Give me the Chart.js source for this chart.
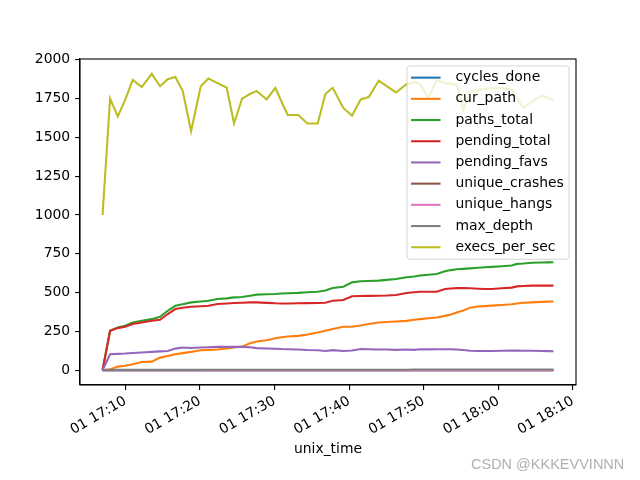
<!DOCTYPE html>
<html>
<head>
<meta charset="utf-8">
<script src="https://cdn.jsdelivr.net/npm/chart.js@4.4.1/dist/chart.umd.min.js"></script>
<style>
  body { margin: 0; background: #fff; }
  #wrap { position: relative; width: 640px; height: 480px; }
  #mark { position: absolute; left: 471px; top: 456px; font: 14.5px "Liberation Sans", sans-serif; color: #b0b0b0; white-space: nowrap; }
</style>
</head>
<body>
<div id="wrap">
<canvas id="c" width="640" height="480"></canvas>
<div id="mark">CSDN @KKKEVVINNN</div>
</div>
<script>
// minutes after 17:00 on day 01
var times = [
  6.94, 7.95, 8.98, 9.96, 10.99, 12.20, 13.54, 14.65, 15.68, 16.70,
  17.69, 18.81, 20.11, 21.13, 22.36, 23.59, 24.57, 25.64, 26.71, 27.61,
  28.95, 30.11, 30.94, 31.77, 33.19, 34.40, 35.79, 36.81, 37.80, 39.22,
  40.39, 41.55, 42.63, 43.97, 45.04, 46.29, 47.72, 48.70, 49.50, 50.62,
  51.74, 52.86, 53.66, 54.42, 55.31, 56.21, 57.32, 58.22, 59.12, 60.46,
  61.80, 62.51, 63.36, 64.48, 65.82, 66.66, 67.40];

var cyclesDone = [
  0,0,0,0,0,0,0,0,0,0, 0,0,0,0,0,0,0,0,0,0, 0,0,0,0,0,0,0,0,0,0,
  0,0,0,0,0,0,0,0,0,0, 0,0,0,0,0,0,0,0,0,0, 0,0,0,0,0,0,0];
var curPath = [
  0,5,23,29,38,53,55,81,92,103,
  110,118,129,131,133,140,146,152,174,185,
  193,206,212,217,221,230,243,254,265,280,
  280,288,297,307,311,314,318,325,329,335,
  340,350,359,372,385,403,410,413,416,420,
  425,430,435,437,440,442,443];
var pathsTotal = [
  0,254,275,286,307,318,329,344,383,415,
  425,437,443,447,459,463,469,472,480,487,
  489,491,494,496,498,502,506,513,530,538,
  566,573,575,577,582,588,599,604,610,615,
  620,638,645,650,653,656,660,663,666,670,
  675,685,687,692,694,695,696];
var pendingTotal = [
  0,254,271,280,297,307,318,325,362,394,
  402,409,412,415,427,430,433,435,437,437,
  434,431,430,430,431,432,433,435,448,452,
  476,478,479,480,481,485,498,502,506,506,
  506,523,526,529,530,528,525,523,523,528,
  532,540,542,545,545,545,545];
var pendingFavs = [
  0,103,105,107,111,114,118,121,124,139,
  146,143,146,148,150,150,150,150,148,142,
  140,138,136,135,133,130,129,124,129,124,
  127,137,135,133,133,131,133,131,135,134,
  135,135,135,133,130,125,124,124,124,125,
  126,126,125,125,124,123,122];
var uniqueCrashes = [
  0,0,0,0,0,0,0,0,0,0, 0,0,0,0,0,0,0,0,0,0, 0,0,0,0,0,0,0,0,0,0,
  0,0,0,0,0,0,0,0,0,0, 0,0,0,0,0,0,0,0,0,0, 0,0,0,0,0,0,0];
var uniqueHangs = [
  0,0,0,0,0,0,0,0,0,0, 0,0,0,0,0,0,0,0,0,0, 0,0,0,0,0,0,0,0,0,0,
  0,0,0,0,0,0,0,0,0,0, 0,0,0,0,0,0,0,0,0,0, 0,0,0,0,0,0,0];
var maxDepth = [
  1,2,2,2,2,2,2,2,2,2,
  2,2,2,3,3,3,3,3,3,3,
  3,3,3,3,3,3,3,3,3,3,
  3,3,3,3,3,3,3,4,4,4,
  4,4,4,4,4,4,4,4,4,4,
  4,4,4,4,4,4,4];
var execsPerSec = [
  1000,1750,1635,1740,1870,1825,1910,1830,1875,1890,
  1800,1540,1830,1880,1850,1820,1590,1750,1780,1800,
  1745,1820,1730,1645,1645,1590,1590,1780,1820,1690,
  1640,1745,1760,1865,1830,1790,1845,1855,1845,1753,
  1870,1850,1845,1840,1680,1795,1805,1812,1818,1818,
  1807,1750,1690,1730,1770,1755,1740];

var seriesNames = [" cycles_done", " cur_path", " paths_total", " pending_total", " pending_favs",
  " unique_crashes", " unique_hangs", " max_depth", " execs_per_sec"];
var seriesColors = ["#1f77b4", "#ff7f0e", "#2ca02c", "#d62728", "#9467bd",
  "#8c564b", "#e377c2", "#7f7f7f", "#bcbd22"];
var seriesValues = [cyclesDone, curPath, pathsTotal, pendingTotal, pendingFavs,
  uniqueCrashes, uniqueHangs, maxDepth, execsPerSec];

var xTicks = [10, 20, 30, 40, 50, 60, 70];
var xTickLabels = ["01 17:10", "01 17:20", "01 17:30", "01 17:40", "01 17:50", "01 18:00", "01 18:10"];
var yTicks = [0, 250, 500, 750, 1000, 1250, 1500, 1750, 2000];

var FS = 13.9;
var FONT = "'DejaVu Sans', sans-serif";

var datasets = [];
for (var i = 0; i < seriesNames.length; i++) {
  var vals = seriesValues[i];
  datasets.push({
    label: seriesNames[i],
    borderColor: seriesColors[i],
    backgroundColor: seriesColors[i],
    borderWidth: 2.08,
    pointRadius: 0,
    tension: 0,
    order: -i, // later series drawn on top, like matplotlib
    data: times.map(function (t, j) { return {x: t, y: vals[j]}; })
  });
}

// matplotlib-like frame and in-axes legend
var frame = {
  id: 'frame',
  afterDatasetsDraw: function (chart) {
    var ctx = chart.ctx, a = chart.chartArea;
    var w = 162, h = 193.3;
    var x0 = a.right - 6.95 - w, y0 = a.top + 6.95;
    ctx.save();
    ctx.beginPath();
    ctx.roundRect(x0, y0, w, h, 3);
    ctx.fillStyle = 'rgba(255,255,255,0.8)';
    ctx.fill();
    ctx.strokeStyle = 'rgba(204,204,204,0.8)';
    ctx.lineWidth = 1;
    ctx.stroke();
    ctx.font = FS + 'px ' + FONT;
    ctx.textBaseline = 'middle';
    ctx.textAlign = 'left';
    for (var i = 0; i < seriesNames.length; i++) {
      var y = y0 + 11.7 + i * 21.2;
      ctx.beginPath();
      ctx.moveTo(x0 + 4, y);
      ctx.lineTo(x0 + 33.5, y);
      ctx.strokeStyle = seriesColors[i];
      ctx.lineWidth = 2.08;
      ctx.stroke();
      ctx.fillStyle = '#000';
      ctx.fillText(seriesNames[i], x0 + 44, y);
    }
    ctx.restore();
  },
  afterDraw: function (chart) {
    var ctx = chart.ctx, a = chart.chartArea;
    ctx.save();
    ctx.strokeStyle = '#000';
    ctx.lineWidth = 1.1;
    ctx.strokeRect(a.left, a.top, a.right - a.left, a.bottom - a.top);
    ctx.restore();
  }
};

new Chart(document.getElementById('c'), {
  type: 'line',
  data: {datasets: datasets},
  plugins: [frame],
  options: {
    responsive: false,
    animation: false,
    devicePixelRatio: 1,
    layout: {padding: {top: 59, right: 64, left: 0, bottom: 0}},
    plugins: {legend: {display: false}, tooltip: {enabled: false}},
    scales: {
      x: {
        type: 'linear',
        min: 3.917,
        max: 70.42,
        afterBuildTicks: function (s) { s.ticks = xTicks.map(function (v) { return {value: v}; }); },
        afterFit: function (s) { s.height = 95; s.paddingLeft = 0; s.paddingRight = 0; },
        ticks: {
          autoSkip: false,
          maxRotation: 30,
          minRotation: 30,
          padding: 3,
          color: '#000',
          font: {family: FONT, size: FS},
          callback: function (v) { return xTickLabels[xTicks.indexOf(v)]; }
        },
        grid: {drawOnChartArea: false, tickLength: 4.9, color: '#000', lineWidth: 1.1},
        border: {color: '#000', width: 1.1},
        title: {display: true, text: 'unix_time', color: '#000', font: {family: FONT, size: FS}, padding: {top: 0, bottom: 22}}
      },
      y: {
        min: -95.5,
        max: 2005.5,
        afterBuildTicks: function (s) { s.ticks = yTicks.map(function (v) { return {value: v}; }); },
        afterFit: function (s) { s.width = 80; s.paddingTop = 0; s.paddingBottom = 0; },
        ticks: {
          padding: 4.9,
          color: '#000',
          font: {family: FONT, size: FS},
          callback: function (v) { return String(v); }
        },
        grid: {drawOnChartArea: false, tickLength: 4.9, color: '#000', lineWidth: 1.1},
        border: {color: '#000', width: 1.1}
      }
    }
  }
});
</script>
</body>
</html>
